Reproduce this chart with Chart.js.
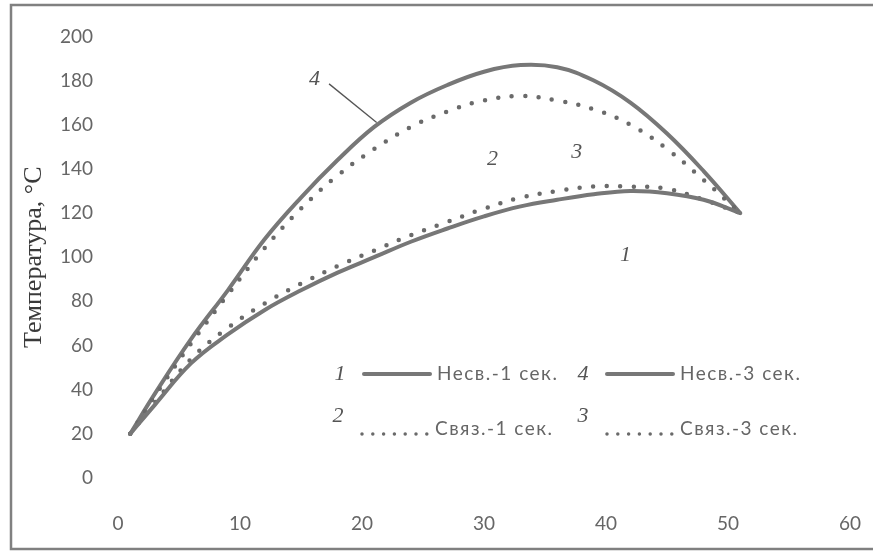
<!DOCTYPE html>
<html>
<head>
<meta charset="utf-8">
<script src="https://cdn.jsdelivr.net/npm/chart.js@4.4.0/dist/chart.umd.min.js"></script>
<style>
  html, body { margin: 0; padding: 0; background: #fff; overflow: hidden; }
</style>
</head>
<body>
<canvas id="graphCanvas" width="873" height="553"></canvas>
<script>
//--------------------- DATA -------------------------
const vremya = [1, 3, 6, 9, 12, 15, 18, 21, 24, 27, 30, 33, 36, 39, 42, 45, 48, 51];
const nesv1  = [20, 33, 52, 65, 76, 85, 93, 100, 107, 113, 118.5, 123, 126, 128.5, 130, 129, 126, 120];
const svyaz1 = [20, 34, 54, 68, 79, 88, 96, 103, 110, 116, 122, 127, 130, 132, 132, 131, 126, 120];
const svyaz3 = [20, 37, 61, 83, 104, 122, 137, 149, 159, 166, 171, 173, 171, 167, 160, 149, 135, 120];
const nesv3  = [20, 38, 63, 85, 108, 127, 144, 159, 170, 178, 184, 187, 186, 180, 170, 156, 139, 120];
const seriesNames = ['Несв.-1 сек.', 'Связ.-1 сек.', 'Связ.-3 сек.', 'Несв.-3 сек.'];
const seriesNums = ['1', '2', '3', '4'];
const yTitle = 'Температура, °С';

const toPts = (ys) => ys.map((y, i) => ({ x: vremya[i], y: y }));

const solid = { borderColor: '#777', borderWidth: 4, borderCapStyle: 'round' };
const dotted = { borderColor: '#6a6a6a', borderWidth: 4.5, borderCapStyle: 'round', borderDash: [0, 13.5] };

// SETUP BLOCK
const data = {
    datasets: [
        Object.assign({ label: seriesNames[0], data: toPts(nesv1) }, solid),
        Object.assign({ label: seriesNames[1], data: toPts(svyaz1) }, dotted),
        Object.assign({ label: seriesNames[2], data: toPts(svyaz3) }, dotted),
        Object.assign({ label: seriesNames[3], data: toPts(nesv3) }, solid)
    ]
};

// annotations: numbers on the curves, legend, frame
const extras = {
    id: 'extras',
    afterDraw(chart) {
        const ctx = chart.ctx;
        const xs = chart.scales.x, ys = chart.scales.y;
        const X = v => xs.getPixelForValue(v), Y = v => ys.getPixelForValue(v);
        ctx.save();
        // frame
        ctx.strokeStyle = '#808080';
        ctx.lineWidth = 2.5;
        ctx.strokeRect(11, 5, 900, 544);

        // curve numbers
        ctx.fillStyle = '#555';
        ctx.font = 'italic 22px "Liberation Serif"';
        ctx.textAlign = 'center';
        ctx.textBaseline = 'middle';
        ctx.fillText(seriesNums[3], X(16.1), Y(180.5));
        ctx.fillText(seriesNums[1], X(30.7), Y(144.5));
        ctx.fillText(seriesNums[2], X(37.6), Y(147.5));
        ctx.fillText(seriesNums[0], X(41.6), Y(101));
        ctx.strokeStyle = '#555';
        ctx.lineWidth = 1.3;
        ctx.beginPath();
        ctx.moveTo(X(17.3), Y(178.5));
        ctx.lineTo(X(21.2), Y(161));
        ctx.stroke();

        // legend
        const rows = [
            { num: 0, x: 340, y: 374, ds: 0 },
            { num: 3, x: 583, y: 374, ds: 3 },
            { num: 1, x: 338, y: 429, ds: 1 },
            { num: 2, x: 583, y: 429, ds: 2 }
        ];
        rows.forEach(r => {
            const d = chart.data.datasets[r.ds];
            const isSolid = !d.borderDash;
            ctx.fillStyle = '#555';
            ctx.font = 'italic 22px "Liberation Serif"';
            ctx.textAlign = 'center';
            ctx.fillText(seriesNums[r.num], r.x, isSolid ? r.y : r.y - 13);
            ctx.strokeStyle = d.borderColor;
            ctx.lineWidth = isSolid ? d.borderWidth : 3.5;
            ctx.lineCap = 'round';
            ctx.setLineDash(isSolid ? [] : [0, 10.8]);
            const ly = isSolid ? r.y : r.y + 5;
            ctx.beginPath();
            ctx.moveTo(r.x + 24, ly);
            ctx.lineTo(r.x + 90, ly);
            ctx.stroke();
            ctx.setLineDash([]);
            ctx.fillStyle = '#666';
            ctx.font = '19px Lato';
            ctx.letterSpacing = '1.5px';
            ctx.textAlign = 'left';
            ctx.fillText(d.label, r.x + 97, r.y);
            ctx.letterSpacing = '0px';
        });
        ctx.restore();
    }
};

// CONFIG BLOCK
const config = {
    type: 'line',
    data,
    options: {
        responsive: false,
        animation: false,
        layout: { padding: { top: 26, right: 0, left: 0, bottom: 0 } },
        elements: {
            point: { radius: 0 },
            line: { tension: 0.4 }
        },
        plugins: {
            legend: { display: false },
            tooltip: { enabled: false }
        },
        scales: {
            x: {
                type: 'linear',
                min: 0,
                max: 60,
                grid: { display: false, drawTicks: false },
                border: { display: false },
                ticks: { stepSize: 10, padding: 34, color: '#666', font: { family: 'Lato', size: 19 } },
                afterFit: (s) => { s.height = 75; s.paddingLeft = 0; s.paddingRight = 23; }
            },
            y: {
                min: 0,
                max: 200,
                grid: { display: false, drawTicks: false },
                border: { display: false },
                ticks: { stepSize: 20, padding: 25, color: '#666', font: { family: 'Lato', size: 19 } },
                title: {
                    display: true,
                    text: yTitle,
                    color: '#3a3a3a',
                    font: { family: 'Liberation Serif', size: 26 },
                    padding: { top: 19, bottom: 0 }
                },
                afterFit: (s) => { s.width = 118; }
            }
        }
    },
    plugins: [extras]
};

// RENDER BLOCK
const graphCanvas = new Chart(
    document.getElementById('graphCanvas').getContext('2d'),
    config
);
</script>
</body>
</html>
